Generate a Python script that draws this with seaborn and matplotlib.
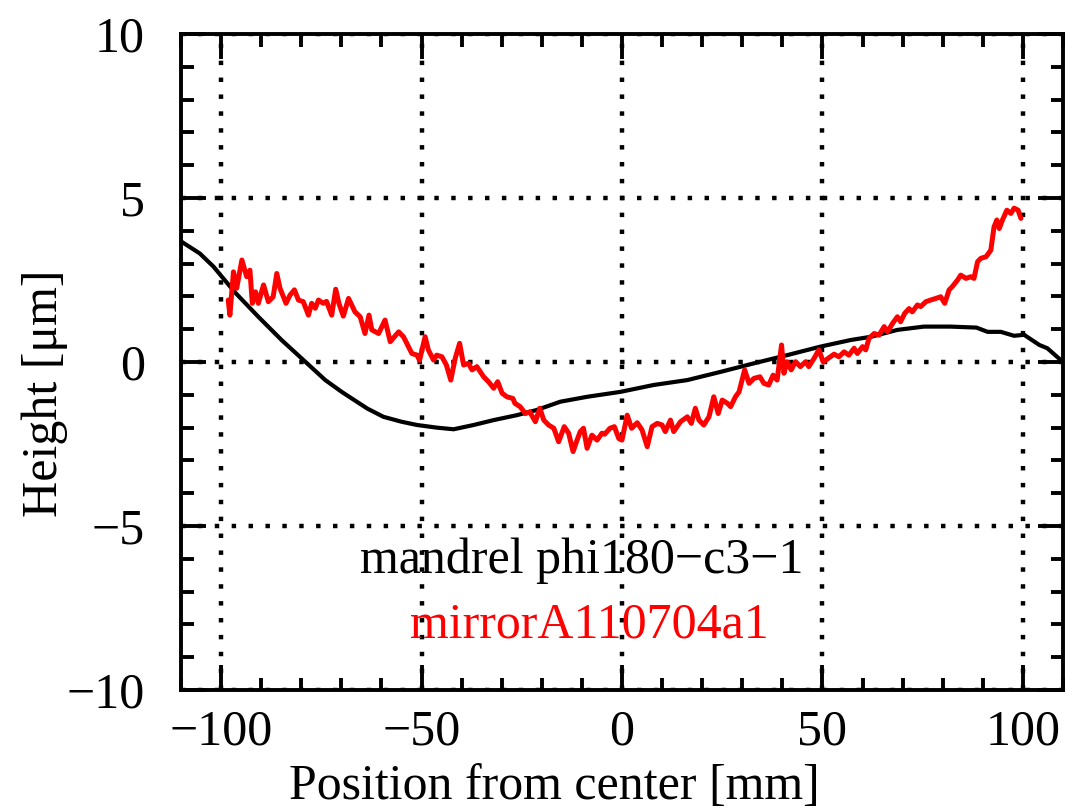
import numpy as np
import pandas as pd
import matplotlib
matplotlib.use("Agg")
import matplotlib.pyplot as plt
import seaborn as sns
from matplotlib.ticker import MultipleLocator

# mandrel profile (black)
mandrel_x = [-110, -105.3, -101.9, -96.5, -90.7, -84.9, -79.0, -74.0, -69.9, -67.4,
             -63.5, -59.5, -55.0, -51.1, -46.2, -42.0, -37.0, -32.0, -26.2, -21.2,
             -15.4, -8.7, -0.4, 7.9, 16.3, 24.6, 32.9, 41.2, 49.5, 57.0,
             62.1, 68.7, 75.3, 81.9, 88.4, 91.2, 94.5, 97.8, 100.3, 104.1,
             106.1, 110]
mandrel_y = [3.68, 3.31, 2.91, 2.12, 1.38, 0.67, 0.01, -0.55, -0.91, -1.11,
             -1.42, -1.67, -1.82, -1.92, -2.00, -2.05, -1.92, -1.77, -1.62, -1.46,
             -1.21, -1.06, -0.91, -0.70, -0.55, -0.30, -0.04, 0.21, 0.47, 0.67,
             0.77, 0.98, 1.08, 1.08, 1.05, 0.92, 0.92, 0.80, 0.83, 0.52,
             0.42, 0.00]

# mirror profile (red)
mirror_x = [-98.2, -97.8, -96.9, -96.1, -94.8, -93.6, -92.8, -92.2, -91.4, -90.7,
            -89.4, -88.2, -87.0, -86.1, -85.3, -83.8, -82.8, -81.7, -80.7, -79.5,
            -78.2, -77.4, -76.5, -75.7, -74.5, -73.7, -72.4, -71.4, -70.6, -69.5,
            -68.2, -66.6, -65.3, -64.1, -63.1, -62.4, -60.7, -59.1, -57.8, -55.7,
            -54.5, -52.4, -51.1, -50.5, -49.1, -48.3, -47.0, -46.2, -44.9, -43.8,
            -42.7, -41.6, -40.5, -39.5, -38.3, -37.4, -36.2, -34.5, -33.3, -32.0,
            -31.0, -29.9, -28.7, -27.2, -26.7, -25.4, -24.1, -23.0, -21.6, -20.5,
            -19.5, -18.3, -17.0, -15.8, -14.4, -13.3, -12.2, -11.2, -10.4, -9.6,
            -8.7, -7.5, -6.2, -5.0, -4.3, -3.0, -1.9, -0.8, 0.0, 1.3,
            2.4, 3.8, 5.0, 6.3, 7.5, 8.8, 10.0, 10.8, 12.1, 12.9,
            14.6, 16.3, 17.3, 18.3, 19.2, 20.4, 21.7, 22.9, 24.0, 25.0,
            26.3, 27.1, 28.3, 29.2, 30.6, 31.7, 32.9, 34.4, 35.4, 36.6,
            37.7, 38.7, 39.8, 40.4, 41.2, 42.2, 43.3, 44.5, 45.8, 46.6,
            47.9, 49.1, 50.2, 51.4, 52.9, 54.1, 55.4, 56.6, 57.9, 58.7,
            60.0, 60.8, 61.6, 62.9, 64.1, 65.4, 66.2, 67.5, 68.7, 69.5,
            70.5, 71.6, 72.4, 73.7, 74.5, 75.8, 77.0, 78.3, 79.5, 80.5,
            81.6, 82.4, 83.7, 84.5, 85.8, 87.0, 87.8, 88.7, 89.5, 90.8,
            92.0, 92.8, 93.5, 94.1, 94.9, 96.0, 97.0, 97.8, 98.8, 99.5]
mirror_y = [1.89, 1.43, 2.75, 2.25, 3.11, 2.60, 2.80, 1.79, 2.14, 1.79,
            2.35, 1.84, 1.99, 2.70, 2.25, 1.79, 2.04, 2.20, 1.89, 1.84,
            1.43, 1.79, 1.64, 1.89, 1.79, 1.85, 1.43, 2.22, 1.79, 1.40,
            1.94, 1.53, 1.38, 0.87, 1.43, 0.98, 0.87, 1.28, 0.62, 0.92,
            0.77, 0.26, 0.21, 0.05, 0.77, 0.37, 0.06, 0.21, 0.16, -0.09,
            -0.55, 0.11, 0.57, -0.09, -0.04, -0.24, -0.14, -0.45, -0.60, -0.80,
            -0.60, -0.95, -1.06, -1.11, -1.26, -1.36, -1.57, -1.52, -1.82, -1.41,
            -1.77, -1.92, -2.02, -2.43, -1.97, -2.17, -2.73, -2.38, -2.12, -2.02,
            -2.63, -2.23, -2.38, -2.17, -2.20, -2.02, -1.97, -2.33, -2.38, -1.62,
            -2.02, -1.85, -2.07, -2.58, -1.97, -1.87, -1.92, -2.12, -1.77, -2.12,
            -1.82, -1.67, -1.87, -1.41, -1.77, -1.92, -1.67, -1.06, -1.57, -1.16,
            -1.26, -1.36, -1.06, -0.91, -0.24, -0.65, -0.50, -0.45, -0.65, -0.70,
            -0.40, -0.55, 0.52, -0.34, 0.01, -0.24, 0.01, -0.14, 0.01, -0.14,
            0.11, 0.37, 0.00, 0.11, 0.24, 0.16, 0.31, 0.21, 0.42, 0.26,
            0.47, 0.37, 0.72, 0.87, 0.82, 1.08, 0.92, 1.18, 1.38, 1.23,
            1.48, 1.63, 1.53, 1.74, 1.69, 1.84, 1.89, 1.94, 1.99, 1.79,
            2.20, 2.30, 2.50, 2.65, 2.55, 2.60, 2.55, 3.06, 3.16, 3.21,
            3.41, 4.12, 4.33, 4.07, 4.33, 4.63, 4.53, 4.69, 4.63, 4.38]

labels = ["mandrel phi180\u2212c3\u22121", "mirrorA110704a1"]
colors = ["black", "red"]

sns.set_style("ticks")
plt.rcParams['font.family'] = ['Liberation Serif', 'DejaVu Serif']
plt.rcParams['axes.unicode_minus'] = True
plt.rcParams['text.color'] = 'black'
plt.rcParams['axes.labelcolor'] = 'black'
plt.rcParams['xtick.color'] = 'black'
plt.rcParams['ytick.color'] = 'black'
plt.rcParams['axes.edgecolor'] = 'black'

df_m = pd.DataFrame({"pos": mandrel_x, "height": mandrel_y})
df_r = pd.DataFrame({"pos": mirror_x, "height": mirror_y})

fig = plt.figure(figsize=(10.72, 8.1), dpi=100)
ax = fig.add_axes([0.1688, 0.1481, 0.8228, 0.8099])

sns.lineplot(data=df_m, x="pos", y="height", color=colors[0], linewidth=3.0, ax=ax, sort=False)
sns.lineplot(data=df_r, x="pos", y="height", color=colors[1], linewidth=3.6, ax=ax, sort=False)

ax.set_xlim(-110, 110)
ax.set_ylim(-10, 10)
ax.xaxis.set_major_locator(MultipleLocator(50))
ax.xaxis.set_minor_locator(MultipleLocator(10))
ax.yaxis.set_major_locator(MultipleLocator(5))
ax.yaxis.set_minor_locator(MultipleLocator(1))

ax.grid(True, which='major', color='black', linestyle=(0, (1, 2.8)), linewidth=3.2)

for s in ax.spines.values():
    s.set_linewidth(2.8)
    s.set_color('black')
ax.tick_params(which='both', direction='in', top=True, right=True, width=2.8, colors='black')
ax.tick_params(which='major', length=18, labelsize=36)
ax.tick_params(which='minor', length=9)
ax.tick_params(axis='x', which='major', pad=14)
ax.tick_params(axis='y', which='major', pad=26)

ax.set_xlabel("Position from center [mm]", fontsize=36, color='black')
ax.set_ylabel("Height [\u03bcm]", fontsize=36, color='black')
ax.xaxis.set_label_coords(0.423, -0.112)
ax.yaxis.set_label_coords(-0.128, 0.453)

ax.text(-10.0, -6.43, labels[0], color=colors[0], fontsize=36, ha='center', va='baseline')
ax.text(-8.1, -8.41, labels[1], color=colors[1], fontsize=36, ha='center', va='baseline')

fig.savefig("out.png", dpi=100)
